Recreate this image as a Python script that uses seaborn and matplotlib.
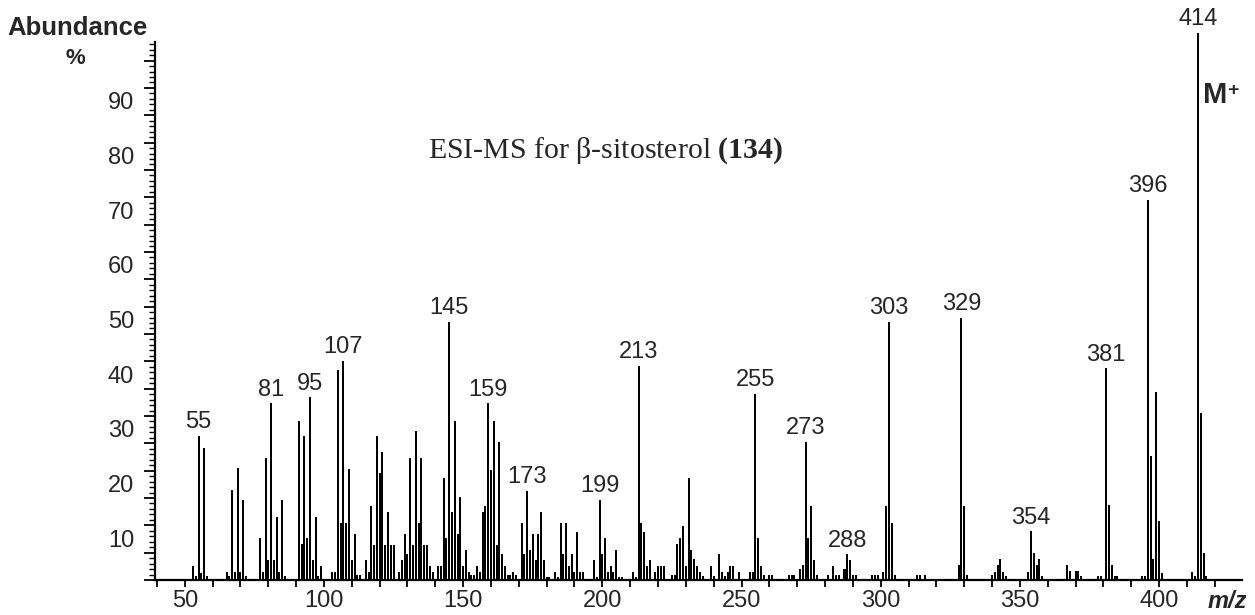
import pandas as pd
import seaborn as sns
import matplotlib.pyplot as plt
import matplotlib.transforms as mtransforms
from matplotlib.ticker import MultipleLocator

# m/z values and relative abundance (%)
mz = [53, 54, 55, 56, 57, 58, 65, 66, 67, 68, 69, 70, 71, 72,
      77, 78, 79, 80, 81, 82, 83, 84, 85, 86,
      91, 92, 93, 94, 95, 96, 97, 98, 99,
      103, 104, 105, 106, 107, 108, 109, 110, 111, 112, 113,
      115, 116, 117, 118, 119, 120, 121, 122, 123, 124, 125,
      127, 128, 129, 130, 131, 132, 133, 134, 135, 136, 137, 138, 139,
      141, 142, 143, 144, 145, 146, 147, 148, 149, 150, 151, 152, 153, 154,
      155, 156, 157, 158, 159, 160, 161, 162, 163, 164, 165, 166, 167, 168, 169,
      171, 172, 173, 174, 175, 176, 177, 178, 179, 180, 181,
      183, 184, 185, 186, 187, 188, 189, 190, 191, 192, 193,
      197, 198, 199, 200, 201, 202, 203, 204, 205, 206, 207,
      211, 212, 213, 214, 215, 216, 217, 219, 220, 221, 222,
      225, 226, 227, 228, 229, 230, 231, 232, 233, 234, 235, 236,
      239, 240, 242, 243, 244, 245, 246, 247, 249,
      253, 254, 255, 256, 257, 258, 260, 261,
      267, 268, 269, 271, 272, 273, 274, 275, 276, 277,
      281, 283, 284, 285, 287, 288, 289, 290, 291,
      297, 298, 299, 301, 302, 303, 304, 305,
      313, 314, 316, 328, 329, 330, 331,
      340, 341, 342, 343, 344, 345,
      353, 354, 355, 356, 357, 358,
      367, 368, 370, 371, 372, 378, 379,
      381, 382, 383, 384, 385,
      394, 395, 396, 397, 398, 399, 400, 401,
      412, 413, 414, 415, 416, 417]
abundance = [2.6, 0.7, 26.3, 1.2, 24.2, 0.7, 1.5, 0.7, 16.5, 1.5, 20.4, 1.5, 14.6, 0.7,
             7.6, 1.5, 22.4, 3.7, 32.3, 3.7, 11.5, 1.5, 14.6, 0.7,
             29.1, 6.5, 26.3, 7.6, 33.4, 3.7, 11.5, 0.7, 2.6,
             1.5, 1.5, 38.4, 10.4, 40.1, 10.4, 20.3, 3.7, 8.5, 0.9, 0.9,
             3.7, 1.5, 13.6, 6.4, 26.3, 19.6, 23.5, 6.4, 12.5, 6.4, 6.4,
             1.5, 3.7, 8.5, 4.8, 22.4, 6.4, 27.3, 10.4, 22.4, 6.4, 6.4, 2.6, 1.5,
             2.6, 2.6, 18.6, 7.6, 47.2, 12.5, 29.1, 8.5, 15.2, 2.6, 5.4, 1.5, 0.9, 0.9,
             2.6, 1.5, 12.5, 13.6, 32.3, 20.2, 29.1, 6.4, 25.3, 4.8, 2.6, 0.9, 0.9, 1.5, 0.9,
             10.4, 4.8, 16.3, 5.4, 8.5, 3.7, 8.5, 12.5, 3.7, 0.6, 0.6,
             1.5, 0.6, 10.5, 4.8, 10.5, 2.6, 4.8, 1.5, 8.7, 1.5, 1.5,
             3.7, 0.6, 14.6, 4.8, 7.6, 1.5, 2.6, 1.5, 5.5, 0.6, 0.6,
             1.5, 0.6, 39.1, 10.5, 8.7, 2.6, 3.7, 1.5, 2.6, 2.6, 2.6,
             0.9, 0.9, 6.5, 7.6, 9.8, 2.6, 18.6, 5.5, 3.8, 2.6, 1.5, 0.7,
             2.6, 0.7, 4.7, 1.5, 0.7, 1.5, 2.6, 2.6, 1.5,
             1.5, 1.5, 34.1, 7.6, 2.6, 0.9, 1.0, 1.0,
             1.0, 1.0, 1.0, 2.0, 2.7, 25.3, 7.6, 13.6, 3.7, 1.0,
             1.0, 2.5, 1.0, 1.0, 2.0, 4.7, 3.7, 1.0, 1.0,
             1.0, 1.0, 1.0, 1.5, 13.6, 47.2, 10.4, 1.0,
             1.0, 1.0, 1.0, 2.7, 48.0, 13.6, 1.0,
             1.0, 1.5, 2.7, 3.8, 1.5, 0.7,
             1.5, 8.9, 4.9, 2.7, 3.8, 0.7,
             2.7, 1.6, 1.6, 1.6, 0.7, 0.7, 0.7,
             38.7, 13.8, 2.7, 0.7, 0.7,
             0.7, 0.7, 69.5, 22.7, 3.8, 34.3, 10.8, 1.2,
             1.5, 0.7, 100.0, 30.5, 4.9, 0.7]

labelled = [55, 81, 95, 107, 145, 159, 173, 199, 213, 255, 273, 288,
            303, 329, 354, 381, 396, 414]

y_ticks = list(range(0, 100, 5))
y_labels = [str(v) if v % 10 == 0 and v > 0 else '' for v in y_ticks]
x_ticks = list(range(40, 430, 10))
x_labels = [str(v) if v % 50 == 0 else '' for v in x_ticks]

sns.set_style("ticks")
plt.rcParams['font.family'] = ['Liberation Sans', 'DejaVu Sans']
plt.rcParams['mathtext.fontset'] = 'custom'
plt.rcParams['mathtext.rm'] = 'Liberation Serif'
plt.rcParams['mathtext.bf'] = 'Liberation Serif:bold'

df = pd.DataFrame({'mz': mz, 'abundance': abundance})

fig = plt.figure(figsize=(12.55, 6.15), dpi=100)
ax = fig.add_axes([155 / 1255, 35 / 615, (1242 - 155) / 1255, (580 - 42) / 615])

sns.barplot(data=df, x='mz', y='abundance', native_scale=True, color='black',
            saturation=1, width=0.72, linewidth=0, errorbar=None, ax=ax)
for p in ax.patches:
    p.set_clip_on(False)

ax.set_xlim(39.3, 429.8)
ax.set_ylim(0, 98.4)
ax.set_xlabel('')
ax.set_ylabel('')
sns.despine(ax=ax)
for s in ['left', 'bottom']:
    ax.spines[s].set_linewidth(1.6)
    ax.spines[s].set_color('black')

ax.set_yticks(y_ticks, labels=y_labels)
ax.yaxis.set_minor_locator(MultipleLocator(1))
ax.set_xticks(x_ticks, labels=x_labels)
ax.tick_params(axis='y', which='major', length=8, width=1.3, pad=7, labelsize=17, color='black')
ax.tick_params(axis='y', which='minor', length=4, width=1.0, color='black')
ax.tick_params(axis='x', which='major', length=5, width=1.3, pad=2, labelsize=17, color='black')

# the y labels sit a little below their ticks in the original
shift = mtransforms.ScaledTranslation(0, -0.13, fig.dpi_scale_trans)
for lbl in ax.get_yticklabels():
    lbl.set_transform(lbl.get_transform() + shift)

lookup = dict(zip(mz, abundance))
for m in labelled:
    ax.annotate(str(m), (m, lookup[m]), xytext=(0, 2), textcoords='offset points',
                ha='center', va='bottom', fontsize=17, annotation_clip=False)

fig.text(148 / 1255, 1 - 28 / 615, 'Abundance', ha='right', va='center',
         fontsize=18.5, fontweight='bold')
fig.text(75 / 1255, 1 - 58 / 615, '%', ha='center', va='center',
         fontsize=16, fontweight='bold')
fig.text(1227 / 1255, 1 - 601 / 615, 'm/z', ha='center', va='center',
         fontsize=17, fontweight='bold', style='italic')

mt = fig.text(1203 / 1255, 1 - 95 / 615, 'M', ha='left', va='center',
              fontsize=21, fontweight='bold')
ax.annotate('+', xy=(1, 1), xycoords=mt, xytext=(0, -1), textcoords='offset points',
            ha='left', va='top', fontsize=14, fontweight='bold')

fig.text(428 / 1255, 1 - 158 / 615, r'ESI-MS for β-sitosterol $\mathbf{(134)}$',
         ha='left', va='baseline', fontsize=21.5, family='Liberation Serif')

fig.savefig('out.png', dpi=100)
